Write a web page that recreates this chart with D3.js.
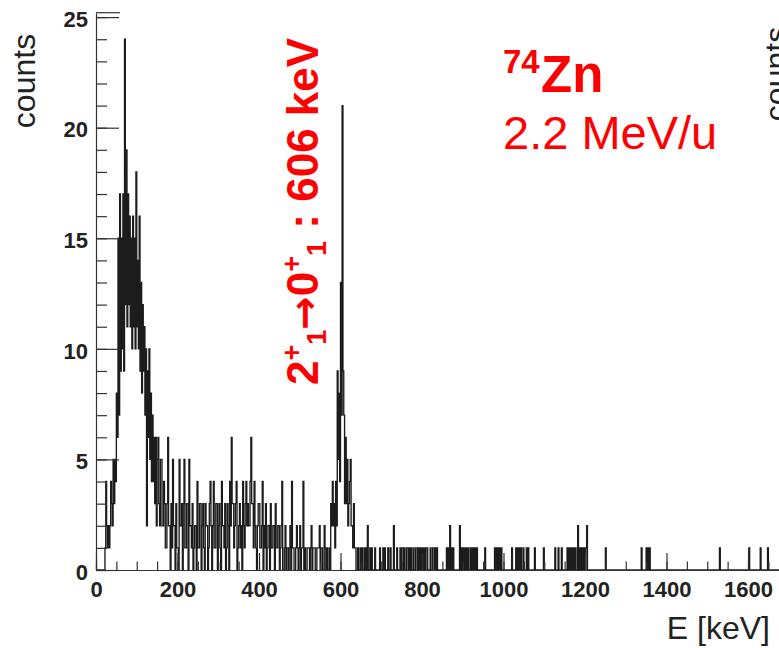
<!DOCTYPE html>
<html>
<head>
<meta charset="utf-8">
<script src="https://cdn.jsdelivr.net/npm/d3@7"></script>
<style>
  html, body { margin: 0; padding: 0; background: #fff; }
  svg { display: block; }
</style>
</head>
<body>
<svg id="chart" width="779" height="648"></svg>
<script>
// Gamma-ray energy spectrum, 2 keV per bin starting at 0 keV
const binWidthKeV = 2;
const counts = [
  0,0,0,0,0,0,0,0,0,0,0,1,4,2,1,2,1,2,4,3,
  2,5,3,5,4,8,6,15,7,17,9,15,10,17,9,24,12,19,11,17,
  12,16,11,15,10,16,11,15,10,18,11,14,10,16,9,13,8,12,9,11,
  7,10,2,9,6,10,5,8,4,7,4,6,3,6,2,5,6,3,2,5,
  5,2,2,4,3,1,1,3,6,2,2,0,3,1,5,2,2,0,3,1,
  1,0,5,2,2,3,0,3,5,1,1,3,3,0,5,2,2,1,3,0,
  1,2,2,0,4,1,1,3,3,0,2,3,1,0,3,2,2,0,1,3,
  4,2,0,2,4,1,1,3,3,0,2,3,1,0,4,2,2,1,3,0,
  1,3,2,0,4,2,6,3,3,1,2,3,4,0,1,2,3,1,2,0,
  4,2,1,3,4,2,3,2,2,4,6,3,3,1,4,2,1,0,2,3,
  3,1,1,2,4,0,2,1,3,0,1,2,2,0,3,1,1,2,2,0,
  3,1,1,2,2,0,1,2,4,0,0,1,2,0,1,1,0,1,2,0,
  4,1,1,0,0,1,2,1,0,1,2,0,1,1,4,0,1,0,0,1,
  1,1,0,1,2,0,1,1,1,0,0,1,1,1,2,0,1,1,0,0,
  2,1,0,1,0,0,1,0,3,2,4,2,3,1,4,2,9,5,8,4,
  13,7,21,9,7,3,6,3,5,2,3,4,5,2,2,1,3,1,1,0,
  0,1,0,0,1,0,1,0,0,1,0,1,0,2,0,0,1,0,1,0,
  0,0,1,0,0,0,0,0,1,0,0,0,1,0,1,0,0,0,1,0,
  0,1,0,0,0,2,0,0,0,1,0,0,0,1,0,1,1,0,1,0,
  0,1,1,0,1,0,1,0,0,1,0,0,1,1,0,1,0,1,0,1,
  0,1,0,1,0,1,1,0,0,0,1,0,0,1,1,0,1,0,1,0,
  0,0,0,0,0,0,0,0,0,0,1,0,1,0,2,0,1,0,1,0,
  0,0,0,0,0,0,2,0,1,0,1,0,1,0,1,0,1,0,0,1,
  0,1,0,1,0,1,0,1,0,0,0,0,0,0,0,0,0,1,0,0,
  0,0,0,0,0,0,0,0,0,1,0,1,0,1,0,1,0,1,0,0,
  0,0,0,0,0,0,0,0,0,0,1,0,0,0,0,1,0,1,0,1,
  0,1,0,0,1,0,0,0,1,0,1,0,0,0,0,0,0,0,1,0,
  0,0,0,0,0,0,0,0,0,1,0,0,0,0,0,0,0,0,0,0,
  0,0,0,1,0,0,0,1,0,0,0,1,0,0,0,0,0,0,1,0,
  1,0,1,0,1,0,1,0,1,0,0,2,0,1,0,1,0,1,0,1,
  0,1,2,0,0,0,0,0,0,0,0,0,0,0,0,0,0,0,0,0,
  0,0,0,0,0,1,0,0,0,0,0,0,0,0,0,0,0,0,0,0,
  0,0,0,0,0,0,0,0,0,0,0,0,0,0,0,0,0,0,0,0,
  0,0,0,0,0,0,0,0,0,1,0,0,0,0,0,1,0,1,0,1,
  0,0,0,0,0,0,0,0,0,0,0,0,0,0,0,0,0,0,0,0,
  0,0,0,0,0,0,0,0,0,0,0,0,0,0,0,0,0,0,0,0,
  0,0,0,0,0,0,0,0,0,0,0,0,0,0,0,0,0,0,0,0,
  0,0,0,0,0,0,0,0,0,0,0,0,0,0,0,0,0,0,0,0,
  0,0,0,0,0,1,0,0,0,0,0,0,0,0,0,0,0,0,0,0,
  0,0,0,0,0,0,0,0,0,0,0,0,0,0,0,0,0,0,0,0,
  0,1,0,0,0,0,0,0,0,0,0,0,0,0,0,1,0,0,0,0,
  0,0,0,0,1,0,0,0,0,0,0,0,0,0,0,0,0,0,0,0,
  0,0,0,0,0,0,0,0,0,0
];
const xDomain = [0, 1700];
const yDomain = [0, 25.2];
const xTickValues = [0, 200, 400, 600, 800, 1000, 1200, 1400, 1600];
const yTickValues = [0, 5, 10, 15, 20, 25];
const xMinorStep = 50;
const yMinorStep = 1;
const xTitle = "E [keV]";
const yTitle = "counts";
const nucleusMass = "74";
const nucleusSymbol = "Zn";
const beamEnergy = "2.2 MeV/u";

const FONT = "'Liberation Sans', Arial, Helvetica, sans-serif";
const AXIS_COLOR = "#333";
const RED = "#ff0000";

const svg = d3.select("#chart");
svg.append("rect").attr("width", 779).attr("height", 648).attr("fill", "#fff");

const x = d3.scaleLinear().domain(xDomain).range([96, 788.75]);
const y = d3.scaleLinear().domain(yDomain).range([570, 12.7]);

// spectrum drawn as a step outline
const pts = counts.map((c, i) => [i * binWidthKeV, c]);
pts.push([counts.length * binWidthKeV, counts[counts.length - 1]]);
const stepLine = d3.line()
  .x(d => x(d[0]))
  .y(d => y(d[1]))
  .curve(d3.curveStepAfter);
svg.append("path")
  .attr("d", stepLine(pts))
  .attr("fill", "none")
  .attr("stroke", "#1c1c1c")
  .attr("stroke-width", 1.35);

// y axis: minor ticks every count, major every 5, ticks pointing inward
const yMinorAxis = d3.axisLeft(y)
  .tickValues(d3.range(0, 25.01, yMinorStep))
  .tickSize(-11).tickFormat("");
const yMajorAxis = d3.axisLeft(y)
  .tickValues(yTickValues)
  .tickFormat(d3.format("d"))
  .tickSizeInner(-23).tickSizeOuter(0).tickPadding(8);

const gyMinor = svg.append("g").attr("transform", "translate(96,0)").call(yMinorAxis);
gyMinor.select(".domain").remove();
const gy = svg.append("g").attr("transform", "translate(96,0)").call(yMajorAxis);

// x axis: minor ticks every 50 keV, major every 200 keV
const xMinorAxis = d3.axisBottom(x)
  .tickValues(d3.range(0, xDomain[1] + 1, xMinorStep))
  .tickSize(-8.5).tickFormat("");
const xMajorAxis = d3.axisBottom(x)
  .tickValues(xTickValues)
  .tickFormat(d3.format("d"))
  .tickSizeInner(-17).tickSizeOuter(0).tickPadding(11);

const gxMinor = svg.append("g").attr("transform", "translate(0,570)").call(xMinorAxis);
gxMinor.select(".domain").remove();
const gx = svg.append("g").attr("transform", "translate(0,570)").call(xMajorAxis);

[gy, gx, gyMinor, gxMinor].forEach(g => {
  g.selectAll("line").attr("stroke", AXIS_COLOR).attr("stroke-width", 1.2);
  g.selectAll(".domain").attr("stroke", AXIS_COLOR).attr("stroke-width", 1.2);
});
[gy, gx].forEach(g => {
  g.selectAll("text")
    .attr("fill", "#222")
    .style("font-family", FONT)
    .style("font-weight", "bold")
    .style("font-size", "22px");
});
gy.selectAll("text").attr("dy", "0.42em");

// cap at the top end of the y axis
svg.append("line")
  .attr("x1", x(0)).attr("x2", x(0) + 24)
  .attr("y1", y(yDomain[1])).attr("y2", y(yDomain[1]))
  .attr("stroke", AXIS_COLOR).attr("stroke-width", 1.2);

// axis titles
svg.append("text")
  .attr("transform", "translate(35,81) rotate(-90)")
  .attr("text-anchor", "middle")
  .attr("fill", "#222")
  .style("font-family", FONT).style("font-size", "32px")
  .text(yTitle);

svg.append("text")
  .attr("x", 770).attr("y", 639)
  .attr("text-anchor", "end")
  .attr("fill", "#222")
  .style("font-family", FONT).style("font-size", "32px")
  .text(xTitle);

// y title of the neighbouring panel, cut by the right edge
svg.append("text")
  .attr("transform", "translate(787,74) rotate(-90)")
  .attr("text-anchor", "middle")
  .attr("fill", "#222")
  .style("font-family", FONT).style("font-size", "32px")
  .text(yTitle);

// nucleus and beam energy
svg.append("text")
  .attr("x", 503).attr("y", 73)
  .attr("fill", RED)
  .style("font-family", FONT).style("font-weight", "bold").style("font-size", "33px")
  .text(nucleusMass);
svg.append("text")
  .attr("x", 541).attr("y", 92)
  .attr("fill", RED)
  .style("font-family", FONT).style("font-weight", "bold").style("font-size", "51px")
  .text(nucleusSymbol);
svg.append("text")
  .attr("x", 503).attr("y", 149)
  .attr("fill", RED)
  .style("font-family", FONT).style("font-size", "47px")
  .text(beamEnergy);

// transition label along the peak
const tl = svg.append("text")
  .attr("transform", "translate(318,385) rotate(-90)")
  .attr("fill", RED)
  .style("font-family", FONT).style("font-weight", "bold").style("font-size", "44px");
tl.append("tspan").text("2");
tl.append("tspan").style("font-size", "27px").attr("dy", -17).text("+");
tl.append("tspan").style("font-size", "27px").attr("dy", 25).text("1");
tl.append("tspan").attr("dy", -8).style("font-family", "'DejaVu Sans', sans-serif").style("font-size", "40px").text("\u2192");
tl.append("tspan").text("0");
tl.append("tspan").style("font-size", "27px").attr("dy", -17).text("+");
tl.append("tspan").style("font-size", "27px").attr("dy", 25).text("1");
tl.append("tspan").attr("dy", -8).text(" : 606 keV");
</script>
</body>
</html>
